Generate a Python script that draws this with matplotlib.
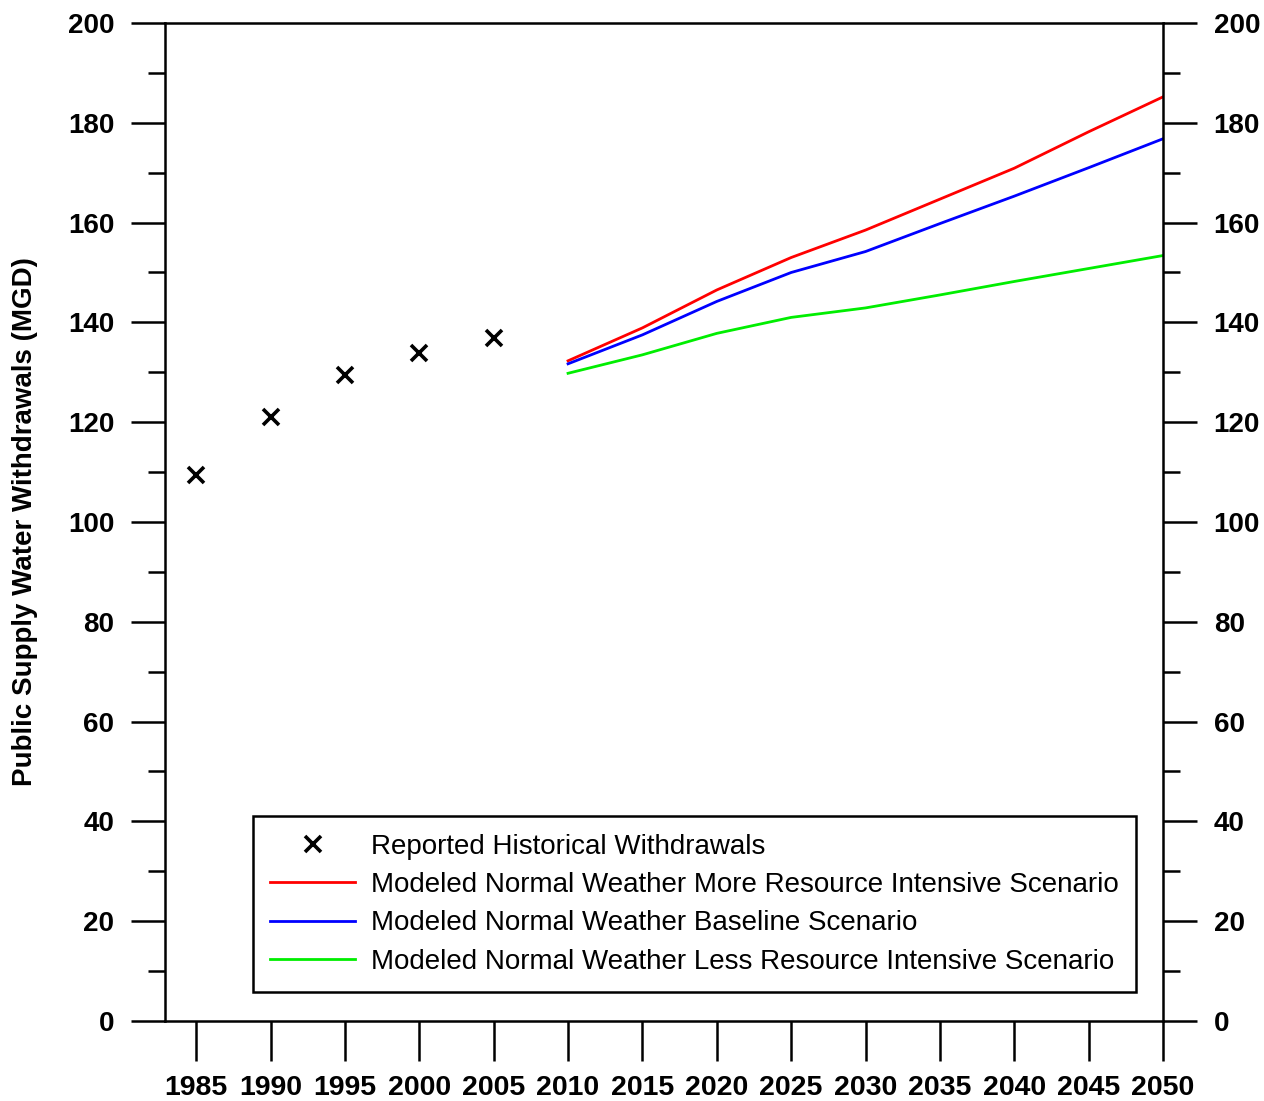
import matplotlib.pyplot as plt
from matplotlib.ticker import MultipleLocator

plt.rcParams['font.family'] = ['Liberation Sans', 'DejaVu Sans']

# reported withdrawals (MGD)
hist_years = [1985, 1990, 1995, 2000, 2005]
hist_mgd = [109.4, 121.1, 129.5, 133.8, 136.8]

# modeled normal weather scenarios
model_years = [2010, 2015, 2020, 2025, 2030, 2035, 2040, 2045, 2050]
more_intensive = [132.3, 138.9, 146.5, 153.0, 158.5, 164.7, 170.9, 178.2, 185.2]
baseline = [131.7, 137.5, 144.2, 150.0, 154.2, 159.8, 165.3, 171.0, 176.8]
less_intensive = [129.8, 133.5, 137.8, 141.0, 142.9, 145.5, 148.2, 150.8, 153.4]

x_ticks = list(range(1985, 2051, 5))

fig = plt.figure(figsize=(12.64, 11.01), dpi=100)
ax = fig.add_axes([0.1305, 0.0727, 0.7896, 0.9064])

ax.plot(hist_years, hist_mgd, linestyle='none', marker='x', color='black',
        markersize=11, markeredgewidth=2.6, label='Reported Historical Withdrawals')
ax.plot(model_years, more_intensive, color='#ff0000', lw=2,
        label='Modeled Normal Weather More Resource Intensive Scenario')
ax.plot(model_years, baseline, color='#0000ff', lw=2,
        label='Modeled Normal Weather Baseline Scenario')
ax.plot(model_years, less_intensive, color='#00ee00', lw=2,
        label='Modeled Normal Weather Less Resource Intensive Scenario')

ax.set_xlim(1982.9, 2050)
ax.set_ylim(0, 200)
ax.set_xticks(x_ticks)
ax.set_xticklabels([str(y) for y in x_ticks])
ax.yaxis.set_major_locator(MultipleLocator(20))
ax.yaxis.set_minor_locator(MultipleLocator(10))

for s in ax.spines.values():
    s.set_linewidth(1.8)

ax.tick_params(axis='y', which='major', direction='out', length=24.5, width=1.8,
               pad=12, labelsize=20, left=True, right=True, labelleft=True, labelright=True)
ax.tick_params(axis='y', which='minor', direction='out', length=12, width=1.8,
               left=True, right=True)
ax.tick_params(axis='x', which='major', direction='out', length=29, width=1.8,
               pad=10, labelsize=20.5)
for lbl in ax.get_xticklabels() + ax.get_yticklabels():
    lbl.set_fontweight('bold')

ax.set_ylabel('Public Supply Water Withdrawals (MGD)', fontsize=20, fontweight='bold')
ax.yaxis.set_label_coords(-0.127, 0.5)

leg = ax.legend(loc='lower left', bbox_to_anchor=(0.088, 0.029), fontsize=20,
                frameon=True, fancybox=False, edgecolor='black', framealpha=1,
                handlelength=3.05, handletextpad=0.58, labelspacing=0.44,
                borderpad=0.63, borderaxespad=0)
leg.get_frame().set_linewidth(1.8)

fig.savefig('out.png', dpi=100)
